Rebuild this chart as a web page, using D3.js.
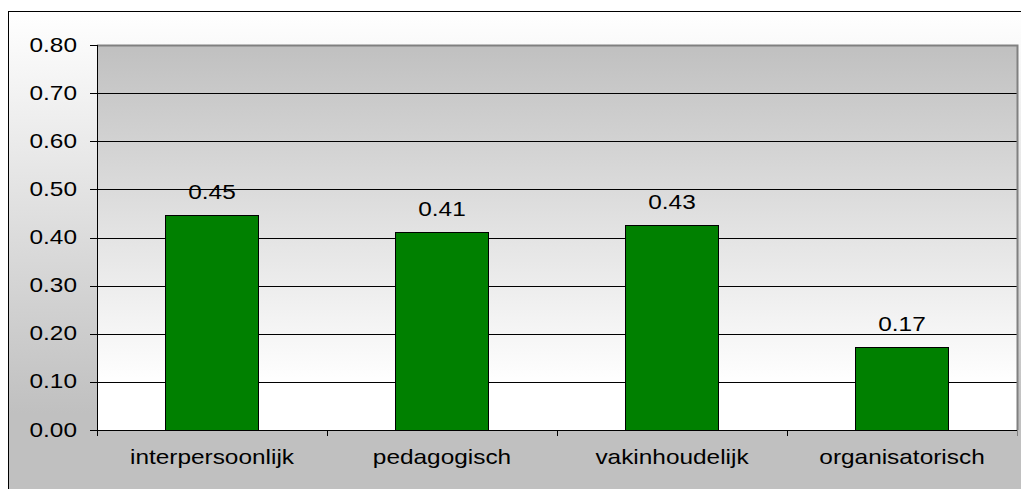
<!DOCTYPE html>
<html>
<head>
<meta charset="utf-8">
<script src="https://cdn.jsdelivr.net/npm/d3@7"></script>
<style>
  body { margin: 0; background: #fff; }
  text { font-family: "Liberation Sans", Arial, sans-serif; fill: #000; }
</style>
</head>
<body>
<svg width="1021" height="489"></svg>
<script>
// data
var categories = ['interpersoonlijk', 'pedagogisch', 'vakinhoudelijk', 'organisatorisch']
var values = [0.447, 0.411, 0.426, 0.172]
var yTicks = [0, 0.1, 0.2, 0.3, 0.4, 0.5, 0.6, 0.7, 0.8]

var svg = d3.select('svg')
var fmt = d3.format('.2f')
var sx = 1.22   // labels in the picture are stretched horizontally
var fs = 20

var plotL = 97, plotR = 1017, plotT = 45, plotB = 430

var defs = svg.append('defs')
var outerGrad = defs.append('linearGradient').attr('id', 'outerGrad')
    .attr('x1', 0).attr('y1', 0).attr('x2', 0).attr('y2', 1)
outerGrad.append('stop').attr('offset', '0%').attr('stop-color', '#ffffff')
outerGrad.append('stop').attr('offset', '82%').attr('stop-color', '#c0c0c0')
outerGrad.append('stop').attr('offset', '100%').attr('stop-color', '#c0c0c0')

var plotGrad = defs.append('linearGradient').attr('id', 'plotGrad')
    .attr('x1', 0).attr('y1', 0).attr('x2', 0).attr('y2', 1)
plotGrad.append('stop').attr('offset', '0%').attr('stop-color', '#c0c0c0')
plotGrad.append('stop').attr('offset', '88%').attr('stop-color', '#ffffff')
plotGrad.append('stop').attr('offset', '100%').attr('stop-color', '#ffffff')

// chart area
svg.append('rect')
    .attr('x', 8.5).attr('y', 11.5)
    .attr('width', 1030).attr('height', 490)
    .style('fill', 'url(#outerGrad)')
    .style('stroke', '#000')
    .style('stroke-width', 1)

var x = d3.scaleBand()
    .domain(categories)
    .range([plotL, plotR])
    .paddingInner(0.595)
    .paddingOuter(0.2975)

var y = d3.scaleLinear()
    .domain([0, 0.8])
    .range([plotB, plotT])

// plot area
svg.append('rect')
    .attr('x', plotL).attr('y', plotT)
    .attr('width', plotR - plotL).attr('height', plotB - plotT)
    .style('fill', 'url(#plotGrad)')

// gridlines
svg.append('g').selectAll('line')
    .data(yTicks.filter(d => d > 0 && d < 0.8))
    .enter()
    .append('line')
    .attr('x1', plotL).attr('x2', plotR)
    .attr('y1', d => Math.round(y(d)) + 0.5)
    .attr('y2', d => Math.round(y(d)) + 0.5)
    .style('stroke', '#000')
    .style('stroke-width', 1)

// plot border top / right
svg.append('path')
    .attr('d', 'M' + plotL + ',' + (plotT + 0.5) + 'H' + (plotR + 0.5) + 'V' + plotB)
    .style('fill', 'none')
    .style('stroke', '#808080')
    .style('stroke-width', 2)

// bars
svg.append('g').selectAll('rect')
    .data(values)
    .enter()
    .append('rect')
    .attr('x', (d, i) => Math.round(x(categories[i])) + 0.5)
    .attr('y', d => Math.round(y(d)) + 0.5)
    .attr('width', Math.round(x.bandwidth()))
    .attr('height', d => Math.round(y(0)) - Math.round(y(d)))
    .style('fill', '#008000')
    .style('stroke', '#000')
    .style('stroke-width', 1)

// value labels
svg.append('g').selectAll('text')
    .data(values)
    .enter()
    .append('text')
    .attr('text-anchor', 'middle')
    .attr('transform', (d, i) => 'translate(' + (x(categories[i]) + x.bandwidth() / 2) + ',' + (y(d) - 16) + ')scale(' + sx + ',1)')
    .style('font-size', fs + 'px')
    .text(d => fmt(d))

// y axis
svg.append('line')
    .attr('x1', plotL + 0.5).attr('x2', plotL + 0.5)
    .attr('y1', plotT).attr('y2', plotB + 6)
    .style('stroke', '#000')
svg.append('g').selectAll('line')
    .data(yTicks)
    .enter()
    .append('line')
    .attr('x1', plotL - 7).attr('x2', plotL)
    .attr('y1', d => Math.round(y(d)) + 0.5)
    .attr('y2', d => Math.round(y(d)) + 0.5)
    .style('stroke', '#000')
svg.append('g').selectAll('text')
    .data(yTicks)
    .enter()
    .append('text')
    .attr('text-anchor', 'end')
    .attr('transform', d => 'translate(77,' + (y(d) + 6.5) + ')scale(' + sx + ',1)')
    .style('font-size', fs + 'px')
    .text(d => fmt(d))

// x axis
svg.append('line')
    .attr('x1', plotL).attr('x2', plotR + 1)
    .attr('y1', plotB + 0.5).attr('y2', plotB + 0.5)
    .style('stroke', '#000')
svg.append('g').selectAll('line')
    .data(d3.range(categories.length + 1))
    .enter()
    .append('line')
    .attr('x1', i => Math.round(plotL + i * x.step()) + 0.5)
    .attr('x2', i => Math.round(plotL + i * x.step()) + 0.5)
    .attr('y1', plotB).attr('y2', plotB + 6)
    .style('stroke', i => i == categories.length ? '#808080' : '#000')
svg.append('g').selectAll('text')
    .data(categories)
    .enter()
    .append('text')
    .attr('text-anchor', 'middle')
    .attr('transform', d => 'translate(' + (x(d) + x.bandwidth() / 2) + ',464)scale(' + sx + ',1)')
    .style('font-size', fs + 'px')
    .text(d => d)
</script>
</body>
</html>
